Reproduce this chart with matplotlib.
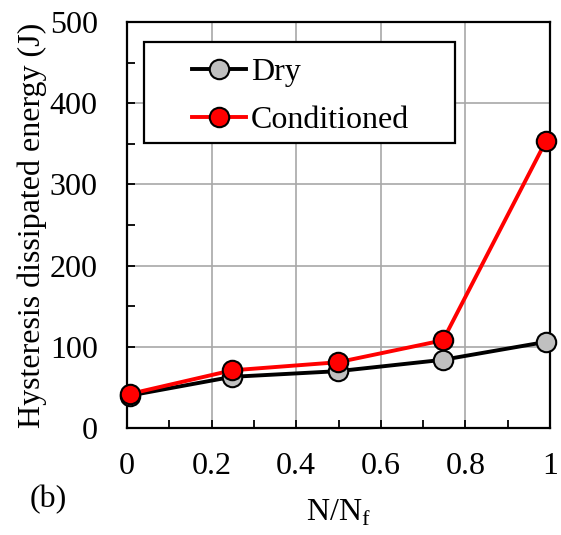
import matplotlib
matplotlib.use("Agg")
import matplotlib.pyplot as plt
from matplotlib.ticker import MultipleLocator
from matplotlib.patches import Rectangle

x = [0.007, 0.248, 0.499, 0.747, 0.99]
dry = [40, 63, 70, 84, 106]
conditioned = [42, 71, 81, 108, 353]

plt.rcParams['font.family'] = ['Liberation Serif', 'DejaVu Serif']
plt.rcParams['mathtext.fontset'] = 'custom'
plt.rcParams['mathtext.rm'] = 'Liberation Serif'

fig = plt.figure(figsize=(5.61, 5.35), dpi=100)
ax = fig.add_axes([127/561, 1-428/535, (550-127)/561, (428-22)/535])

ax.plot(x, dry, '-o', color='black', lw=2.8, ms=14, mfc='#c0c0c0', mec='black', mew=1.5, label='Dry', zorder=3, clip_on=False)
ax.plot(x, conditioned, '-o', color='red', lw=2.8, ms=14, mfc='red', mec='black', mew=1.5, label='Conditioned', zorder=4, clip_on=False)

ax.set_xlim(0, 1)
ax.set_ylim(0, 500)
ax.xaxis.set_major_locator(MultipleLocator(0.2))
ax.xaxis.set_minor_locator(MultipleLocator(0.1))
ax.yaxis.set_major_locator(MultipleLocator(100))
ax.yaxis.set_minor_locator(MultipleLocator(50))
ax.set_xticks([0, 0.2, 0.4, 0.6, 0.8, 1.0])
ax.set_xticklabels(['0', '0.2', '0.4', '0.6', '0.8', '1'])
ax.grid(True, which='major', color='#a8a8a8', lw=1.2)
ax.tick_params(which='both', direction='in', length=6, width=1.3, labelsize=23)
ax.tick_params(axis='x', which='major', pad=17)
ax.tick_params(axis='y', which='major', pad=21)
for s in ax.spines.values():
    s.set_linewidth(1.6)

ax.set_ylabel('Hysteresis dissipated energy (J)', fontsize=23, labelpad=2)
ax.set_xlabel(r'N/N$_\mathrm{f}$', fontsize=23, labelpad=12)

leg = ax.legend(loc='upper left', bbox_to_anchor=(0.154, 0.913), fontsize=23, frameon=False,
                borderpad=0, handlelength=1.7, handletextpad=0.15,
                labelspacing=0.6, borderaxespad=0)
ax.add_patch(Rectangle((0.040, 0.702), 0.735, 0.249, transform=ax.transAxes,
                       facecolor='white', edgecolor='black', lw=1.6, zorder=5))
leg.set_zorder(6)

fig.text(48/561, 1-500/535, '(b)', fontsize=23, ha='center', va='center')

fig.savefig('out.png', dpi=100)
